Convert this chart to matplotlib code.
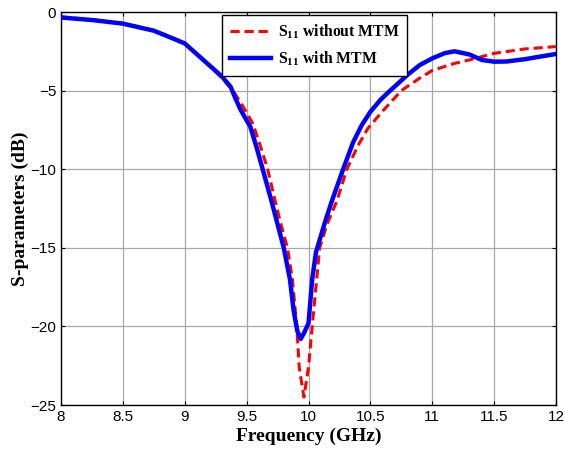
import matplotlib
matplotlib.use("Agg")
import matplotlib.pyplot as plt
import numpy as np

plt.rcParams['mathtext.default'] = 'regular'

freq_blue = [8.0, 8.25, 8.5, 8.75, 8.9, 9.0, 9.1, 9.2, 9.3, 9.37, 9.41, 9.45, 9.53, 9.58,
             9.63, 9.70, 9.75, 9.80, 9.85, 9.88, 9.91, 9.937, 9.965, 10.0, 10.03,
             10.06, 10.09, 10.14, 10.19, 10.28, 10.36, 10.43, 10.5, 10.58, 10.66,
             10.8, 10.9, 11.0, 11.1, 11.18, 11.3, 11.4, 11.5, 11.6, 11.75, 11.9, 12.0]
s11_with = [-0.35, -0.51, -0.74, -1.19, -1.67, -2.0, -2.7, -3.4, -4.1, -4.75, -5.5, -6.2, -7.3, -8.6,
            -10.0, -12.0, -13.5, -15.0, -17.0, -19.0, -20.3, -20.8, -20.4, -19.8, -17.0,
            -15.3, -14.5, -13.2, -12.0, -10.0, -8.3, -7.2, -6.35, -5.6, -5.0,
            -4.0, -3.37, -2.95, -2.62, -2.5, -2.7, -3.05, -3.16, -3.15, -3.0, -2.8, -2.67]

freq_red = [8.0, 8.25, 8.5, 8.75, 8.9, 9.0, 9.1, 9.2, 9.3, 9.39, 9.47, 9.55, 9.61, 9.67,
            9.73, 9.78, 9.83, 9.87, 9.905, 9.925, 9.963, 10.0, 10.03, 10.06, 10.09,
            10.15, 10.23, 10.31, 10.4, 10.48, 10.6, 10.75, 10.9, 11.0, 11.18, 11.3,
            11.5, 11.75, 12.0]
s11_without = [-0.3, -0.5, -0.72, -1.17, -1.65, -1.98, -2.68, -3.42, -4.2, -5.0, -6.0, -7.1, -8.5, -10.0,
               -12.0, -13.6, -15.0, -17.0, -20.0, -22.6, -24.5, -22.6, -20.0, -17.5, -15.0,
               -13.5, -12.0, -10.0, -8.5, -7.4, -6.3, -5.0, -4.2, -3.72, -3.27, -3.05,
               -2.63, -2.35, -2.2]

xticks = [8, 8.5, 9, 9.5, 10, 10.5, 11, 11.5, 12]
xticklabels = ['8', '8.5', '9', '9.5', '10', '10.5', '11', '11.5', '12']
yticks = [0, -5, -10, -15, -20, -25]

fig = plt.figure(figsize=(5.65, 4.54), dpi=100)
ax = fig.add_axes([61/565, 1-405/454, (556-61)/565, (405-12)/454])

ax.plot(freq_red, s11_without, color='#ff0000', linestyle=(0, (3, 1.6)), linewidth=2.2,
        label='S$_{11}$ without MTM', zorder=3)
ax.plot(freq_blue, s11_with, color='#0000ff', linestyle='-', linewidth=3.2,
        label='S$_{11}$ with MTM', zorder=4)

ax.set_xlim(8, 12)
ax.set_ylim(-25, 0)
ax.set_xticks(xticks)
ax.set_xticklabels(xticklabels)
ax.set_yticks(yticks)
ax.grid(True, color='#a8a8a8', linewidth=0.9)
ax.tick_params(direction='in', top=True, right=True, length=3, width=0.8,
               labelsize=11, colors='black')
for lab in ax.get_xticklabels() + ax.get_yticklabels():
    lab.set_family('Liberation Sans')
for sp in ax.spines.values():
    sp.set_linewidth(1.0)
    sp.set_color('black')

ax.set_xlabel('Frequency (GHz)', fontsize=14, fontweight='bold', family='Liberation Serif', labelpad=3)
ax.set_ylabel('S-parameters (dB)', fontsize=14, fontweight='bold', family='Liberation Serif', labelpad=1)

leg = ax.legend(loc='upper left', bbox_to_anchor=((222-61)/495, 1-3/393),
                prop={'family': 'Liberation Serif', 'weight': 'bold', 'size': 11.3},
                fancybox=False, framealpha=1, edgecolor='black', handlelength=2.6,
                borderpad=0.5, labelspacing=0.55, handletextpad=0.45, borderaxespad=0)
leg.get_frame().set_linewidth(1.0)

fig.savefig('out.png', dpi=100, facecolor='white')
